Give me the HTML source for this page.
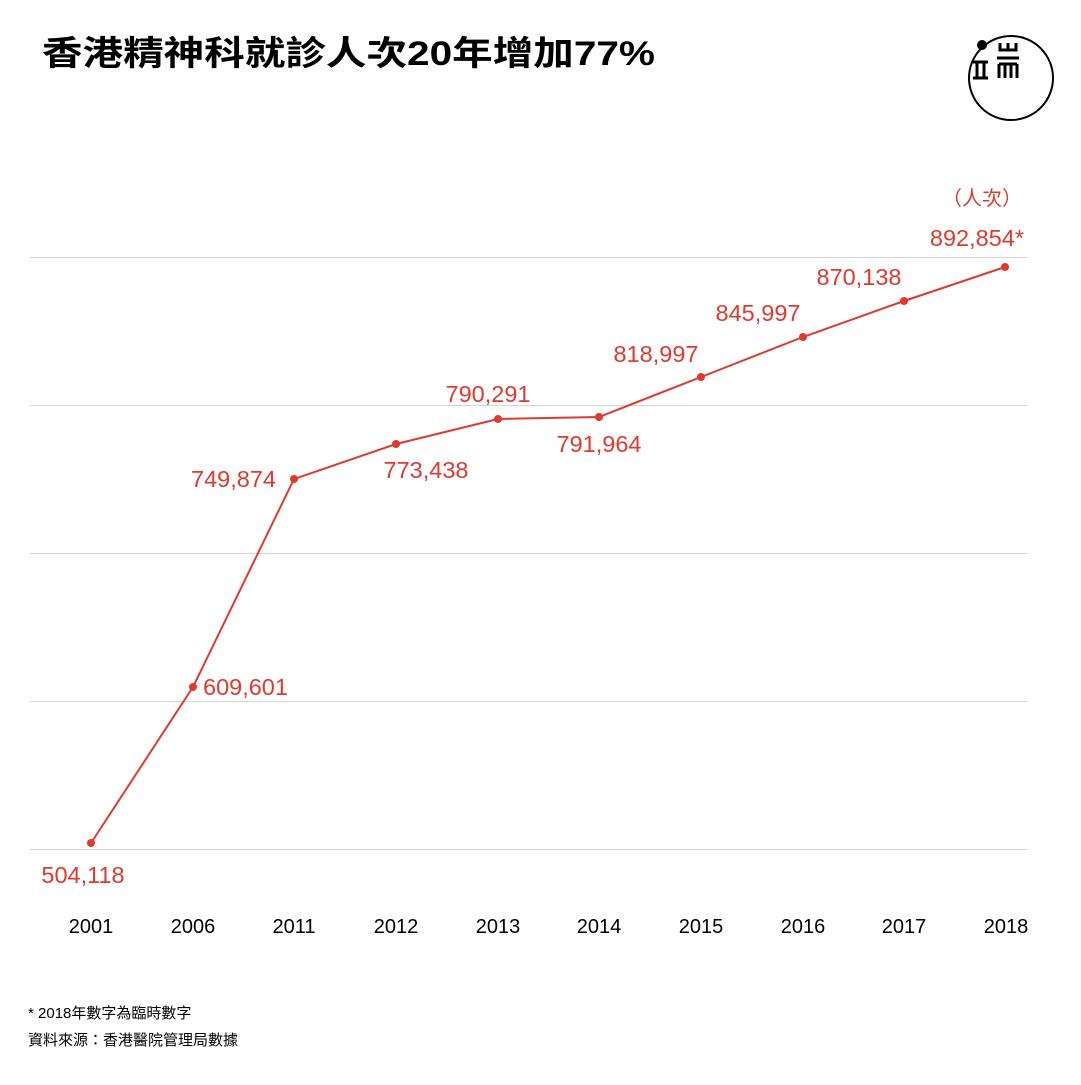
<!DOCTYPE html>
<html><head><meta charset="utf-8"><style>
body{margin:0;background:#fff;}
svg text{font-family:"Liberation Sans","Noto Sans CJK TC",sans-serif;}
</style></head><body>
<svg width="1081" height="1080" xmlns="http://www.w3.org/2000/svg">
<rect width="1081" height="1080" fill="#fff"/>
<text x="42" y="65" font-size="34" font-weight="bold" fill="#000" textLength="613" lengthAdjust="spacingAndGlyphs">香港精神科就診人次20年增加77%</text>
<circle cx="1011" cy="78" r="42" fill="none" stroke="#000" stroke-width="2"/>
<circle cx="982" cy="45" r="5" fill="#000"/>
<g stroke="#000" stroke-width="3" fill="none">
<path d="M973 62 H988 M973 78 H988 M977 62 V78 M984 62 V78"/>
<path d="M1000 43 V50 H1016 V43 M1008 43 V50"/>
<path d="M997 58 H1019 M999 64 V78 M1017 64 V78 M999 64 H1017 M1005 64 V78 M1011 64 V78"/>
</g>
<g stroke="#d5d5d5" stroke-width="1">
<line x1="30" x2="1027" y1="257.5" y2="257.5"/>
<line x1="30" x2="1027" y1="405.5" y2="405.5"/>
<line x1="30" x2="1027" y1="553.5" y2="553.5"/>
<line x1="30" x2="1027" y1="701.5" y2="701.5"/>
<line x1="30" x2="1027" y1="849.5" y2="849.5"/>
</g>
<polyline fill="none" stroke="#e03a2f" stroke-width="2" points="91,843 193,687 294,479 396,444 498,419 599,417 701,377 803,337 904,301 1005,267"/>
<g fill="#e03a2f">
<circle cx="91" cy="843" r="4"/><circle cx="193" cy="687" r="4"/><circle cx="294" cy="479" r="4"/><circle cx="396" cy="444" r="4"/><circle cx="498" cy="419" r="4"/><circle cx="599" cy="417" r="4"/><circle cx="701" cy="377" r="4"/><circle cx="803" cy="337" r="4"/><circle cx="904" cy="301" r="4"/><circle cx="1005" cy="267" r="4"/>
</g>
<g fill="#e03a2f" font-size="23.5">
<text x="1022" y="205" text-anchor="end" font-size="20">（人次）</text>
<text x="83" y="883" text-anchor="middle">504,118</text>
<text x="203" y="695">609,601</text>
<text x="276" y="487" text-anchor="end">749,874</text>
<text x="426" y="478" text-anchor="middle">773,438</text>
<text x="488" y="402" text-anchor="middle">790,291</text>
<text x="599" y="452" text-anchor="middle">791,964</text>
<text x="656" y="362" text-anchor="middle">818,997</text>
<text x="758" y="321" text-anchor="middle">845,997</text>
<text x="859" y="285" text-anchor="middle">870,138</text>
<text x="1024" y="246" text-anchor="end">892,854*</text>
</g>
<g fill="#000" font-size="20" text-anchor="middle">
<text x="91" y="933">2001</text><text x="193" y="933">2006</text><text x="294" y="933">2011</text><text x="396" y="933">2012</text><text x="498" y="933">2013</text><text x="599" y="933">2014</text><text x="701" y="933">2015</text><text x="803" y="933">2016</text><text x="904" y="933">2017</text><text x="1006" y="933">2018</text>
</g>
<text x="28" y="1018" font-size="15" fill="#000">* 2018年數字為臨時數字</text>
<text x="28" y="1045" font-size="15" fill="#000">資料來源：香港醫院管理局數據</text>
</svg>
</body></html>
